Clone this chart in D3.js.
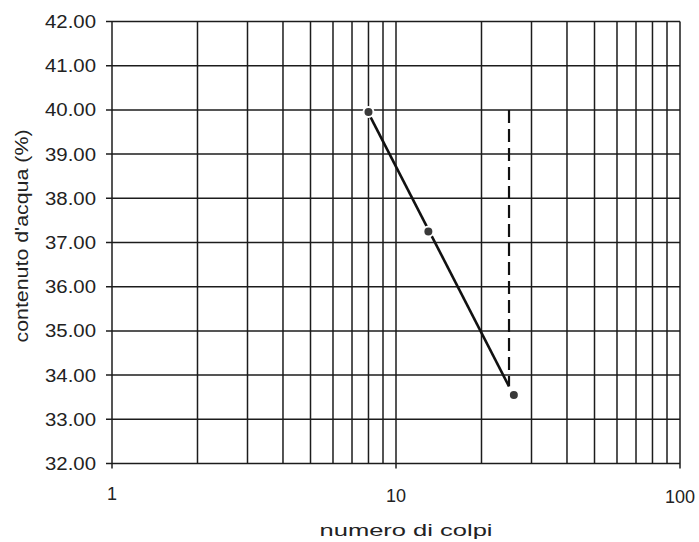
<!DOCTYPE html>
<html><head><meta charset="utf-8">
<script src="https://cdn.jsdelivr.net/npm/d3@7"></script>
<style>body{margin:0;background:#fff}svg{display:block}</style>
</head><body>
<svg id="c" width="699" height="542"></svg>
<script>
// data
const blowCounts = [8, 13, 26];
const waterContent = [39.95, 37.25, 33.55];
const limitBlows = 25;
const limitTop = 40.0;
const yTicks = [32, 33, 34, 35, 36, 37, 38, 39, 40, 41, 42];
const xGrid = [1,2,3,4,5,6,7,8,9,10,20,30,40,50,60,70,80,90,100];
const xTickLabels = [1, 10, 100];
const yTitle = "contenuto d'acqua (%)";
const xTitle = "numero di colpi";

const svg = d3.select("#c");
const L = 112, R = 680, T = 21.5, B = 463.5;
const x = d3.scaleLog().domain([1, 100]).range([L, R]);
const y = d3.scaleLinear().domain([32, 42]).range([B, T]);
const ink = "#1c1c1c";

// grid
svg.append("g").selectAll("line").data(yTicks).join("line")
  .attr("x1", L - 6).attr("x2", R).attr("y1", d => y(d)).attr("y2", d => y(d))
  .attr("stroke", ink).attr("stroke-width", 1.5);
svg.append("g").selectAll("line").data(xGrid).join("line")
  .attr("x1", d => x(d)).attr("x2", d => x(d)).attr("y1", T)
  .attr("y2", d => xTickLabels.includes(d) ? B + 5 : B)
  .attr("stroke", ink).attr("stroke-width", 1.5);

// y tick labels
svg.append("g").selectAll("text").data(yTicks).join("text")
  .attr("x", 96).attr("y", d => y(d)).attr("dy", "0.36em")
  .attr("text-anchor", "end")
  .attr("font-family", "Liberation Sans, Arial, sans-serif").attr("font-size", 18)
  .attr("textLength", 51).attr("lengthAdjust", "spacingAndGlyphs")
  .attr("fill", "#222").text(d => d.toFixed(2));

// x tick labels
svg.append("g").selectAll("text").data(xTickLabels).join("text")
  .attr("x", d => x(d)).attr("y", (d, i) => 500 + i * 1.5)
  .attr("text-anchor", "middle")
  .attr("font-family", "Liberation Sans, Arial, sans-serif").attr("font-size", 18)
  .attr("fill", "#222").text(d => d);

// axis titles
svg.append("text").attr("x", 406).attr("y", 536).attr("text-anchor", "middle")
  .attr("font-family", "Liberation Sans, Arial, sans-serif").attr("font-size", 17)
  .attr("textLength", 173).attr("lengthAdjust", "spacingAndGlyphs")
  .attr("fill", "#222").text(xTitle);
svg.append("text").attr("transform", "translate(28,236) rotate(-90)")
  .attr("text-anchor", "middle")
  .attr("font-family", "Liberation Sans, Arial, sans-serif").attr("font-size", 18)
  .attr("textLength", 213).attr("lengthAdjust", "spacingAndGlyphs")
  .attr("fill", "#222").text(yTitle);

// regression in log space
const pts = blowCounts.map((b, i) => ({b, w: waterContent[i]}));
const X = pts.map(p => Math.log10(p.b)), Y = pts.map(p => p.w);
const mx = d3.mean(X), my = d3.mean(Y);
const slope = d3.sum(X.map((v, i) => (v - mx) * (Y[i] - my))) / d3.sum(X.map(v => (v - mx) ** 2));
const fit = b => my + slope * (Math.log10(b) - mx);
const fitLine = [blowCounts[0], limitBlows].map(b => ({b, w: fit(b)}));

svg.append("path").datum(fitLine)
  .attr("d", d3.line().x(d => x(d.b)).y(d => y(d.w)))
  .attr("fill", "none").attr("stroke", "#111").attr("stroke-width", 2.6);

svg.append("line")
  .attr("x1", x(limitBlows)).attr("x2", x(limitBlows))
  .attr("y1", y(limitTop)).attr("y2", y(fit(limitBlows)))
  .attr("stroke", "#111").attr("stroke-width", 2.2).attr("stroke-dasharray", "13,6");

svg.append("g").selectAll("circle").data(pts).join("circle")
  .attr("cx", d => x(d.b)).attr("cy", d => y(d.w)).attr("r", 5)
  .attr("fill", "#3a3a3a").attr("stroke", "#fff").attr("stroke-width", 2);
</script>
</body></html>
